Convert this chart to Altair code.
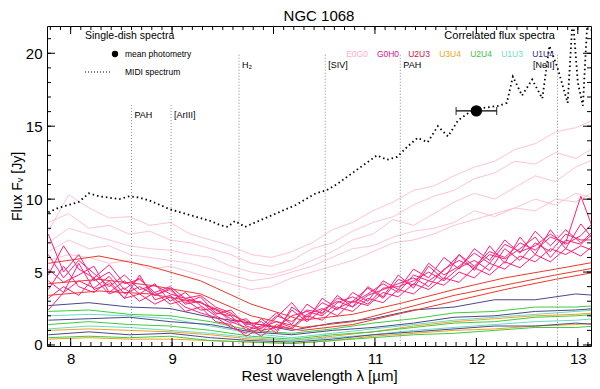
import altair as alt
import pandas as pd

# ---------------- data ----------------
TITLE = "NGC 1068"
X_TITLE = "Rest wavelength λ [µm]"
Y_TITLE = "Flux Fᵥ [Jy]"
X_MAJOR = [8, 9, 10, 11, 12, 13]
Y_MAJOR = [0, 5, 10, 15, 20]
X_MINOR = [round(7.8 + 0.1 * i, 1) for i in range(54)]
Y_MINOR = list(range(0, 22))

# MIDI single-dish spectrum
MIDI_LAM = [7.78, 7.88, 7.98, 8.08, 8.18, 8.28, 8.38, 8.48, 8.58, 8.68, 8.78, 8.88, 8.98,
            9.08, 9.18, 9.28, 9.38, 9.48, 9.55, 9.62, 9.72, 9.82, 9.92, 10.02, 10.12, 10.22,
            10.32, 10.42, 10.52, 10.62, 10.72, 10.82, 10.92, 11.02, 11.12, 11.22, 11.32, 11.42,
            11.52, 11.62, 11.72, 11.82, 11.92, 12.02, 12.12, 12.22, 12.30, 12.36, 12.45, 12.55,
            12.65, 12.72, 12.80, 12.90, 12.95, 13.00, 13.05, 13.10, 13.15]
MIDI_FLUX = [9.1, 9.4, 9.6, 9.8, 10.4, 10.2, 10.1, 10.0, 10.2, 10.1, 9.9, 9.6, 9.3,
             9.1, 8.9, 8.7, 8.5, 8.2, 8.1, 8.5, 8.1, 8.4, 8.7, 9.0, 9.3, 9.6,
             10.0, 10.4, 10.6, 11.0, 11.5, 12.0, 12.5, 13.0, 12.7, 12.9, 13.6, 14.2,
             13.9, 15.0, 14.3, 15.4, 15.9, 16.2, 16.3, 16.4, 16.6, 18.4, 17.1, 18.2,
             16.9, 20.5, 19.0, 16.6, 22.5, 18.0, 16.4, 23.0, 21.0]

# mean photometry
PHOT_LAM = [12.0]
PHOT_FLUX = [16.05]
PHOT_XERR = [0.2]

# E0G0 correlated fluxes
P_GRID = [7.78, 7.98, 8.18, 8.38, 8.58, 8.78, 8.98, 9.18, 9.38, 9.58, 9.78, 9.98, 10.18, 10.38,
          10.58, 10.78, 10.98, 11.18, 11.38, 11.58, 11.78, 11.98, 12.18, 12.38, 12.58, 12.78,
          12.98, 13.18]
E0G0 = [
    [7.8, 10.3, 9.4, 8.7, 8.8, 8.2, 8.4, 7.6, 7.2, 6.8, 6.2, 6.0, 6.4, 7.0, 7.9, 8.4, 9.2, 9.8,
     10.6, 10.9, 11.6, 12.2, 12.6, 13.4, 13.8, 14.6, 14.9, 15.5],
    [8.4, 9.0, 8.0, 8.2, 7.6, 7.8, 7.2, 7.0, 6.6, 6.2, 5.6, 5.4, 5.8, 6.6, 7.0, 7.8, 8.4, 8.8,
     9.6, 10.2, 10.6, 11.4, 11.8, 12.6, 12.4, 13.2, 12.8, 13.6],
    [7.0, 8.0, 7.6, 7.2, 6.8, 6.6, 6.5, 6.2, 6.0, 5.4, 5.0, 4.8, 5.2, 5.8, 6.4, 7.2, 7.6, 8.6,
     8.2, 9.0, 9.8, 10.4, 10.0, 10.8, 11.6, 11.2, 12.2, 12.8],
    [6.4, 7.2, 6.6, 6.8, 6.2, 6.0, 5.8, 5.6, 5.2, 4.8, 4.4, 4.6, 5.0, 5.4, 6.0, 6.6, 6.8, 7.4,
     7.8, 8.0, 8.4, 9.2, 8.8, 9.4, 10.0, 9.6, 10.4, 10.0],
    [5.8, 6.2, 6.0, 5.6, 5.8, 5.2, 5.4, 5.0, 4.6, 4.2, 3.8, 4.0, 4.6, 5.0, 5.4, 5.8, 6.4, 7.0,
     7.2, 7.6, 8.2, 8.6, 9.0, 9.4, 9.2, 10.0, 9.8, 10.6],
]

# G0H0 correlated fluxes
G_GRID = [7.78, 7.93, 8.08, 8.23, 8.38, 8.53, 8.68, 8.83, 8.98, 9.13, 9.28, 9.43, 9.58, 9.73,
          9.88, 10.03, 10.18, 10.33, 10.48, 10.63, 10.78, 10.93, 11.08, 11.23, 11.38, 11.53,
          11.68, 11.83, 11.98, 12.13, 12.28, 12.43, 12.58, 12.73, 12.88, 13.03, 13.18]
G0H0 = [
    [4.8, 6.8, 5.2, 4.6, 5.5, 4.2, 4.5, 3.6, 4.0, 3.2, 3.4, 2.6, 2.2, 1.4, 1.6, 0.8, 2.6, 1.9, 2.9,
     2.4, 3.6, 3.0, 4.4, 3.8, 5.2, 4.6, 6.0, 5.2, 6.6, 5.8, 7.2, 6.3, 7.8, 6.8, 7.9, 7.0, 8.0],
    [3.2, 4.0, 3.4, 4.6, 3.5, 3.9, 3.0, 3.6, 2.8, 3.1, 2.4, 2.5, 1.6, 1.2, 0.6, 1.4, 1.1, 2.0, 1.7,
     2.6, 2.3, 3.2, 2.9, 3.8, 3.5, 4.4, 4.1, 5.0, 4.6, 5.6, 5.2, 6.1, 5.7, 6.6, 6.2, 6.8, 6.4],
    [7.6, 5.0, 6.2, 4.4, 5.0, 3.8, 4.6, 3.4, 3.9, 2.9, 3.3, 2.2, 2.0, 1.0, 1.3, 2.2, 1.4, 2.8, 2.1,
     3.4, 2.6, 4.0, 3.3, 4.8, 3.9, 5.4, 4.5, 6.2, 5.1, 6.8, 5.6, 7.4, 6.2, 7.9, 6.6, 8.3, 7.0],
    [2.4, 3.6, 5.6, 3.8, 4.2, 3.2, 4.8, 3.1, 3.4, 2.6, 2.2, 1.9, 1.2, 0.8, 1.8, 1.0, 2.4, 1.6, 2.4,
     3.0, 2.6, 3.4, 3.8, 4.2, 4.6, 4.0, 5.2, 5.8, 5.3, 6.2, 5.9, 6.6, 7.4, 6.0, 7.2, 6.9, 7.8],
    [5.2, 4.3, 4.8, 5.4, 3.6, 4.4, 3.5, 4.2, 3.0, 3.6, 2.7, 2.0, 1.5, 1.8, 0.9, 1.9, 2.9, 1.7, 3.2,
     2.5, 3.0, 3.9, 3.2, 4.5, 4.1, 5.6, 4.8, 5.4, 6.3, 5.6, 6.9, 6.4, 6.8, 7.6, 6.9, 7.5, 8.6],
    [3.8, 5.4, 4.0, 3.6, 4.4, 3.2, 3.5, 2.8, 3.3, 2.3, 2.6, 1.6, 1.4, 0.6, 1.2, 1.6, 1.2, 2.1, 2.5,
     2.0, 3.0, 2.7, 3.6, 3.3, 4.2, 3.8, 4.6, 4.3, 5.3, 4.8, 5.7, 5.3, 6.2, 5.7, 6.6, 6.1, 7.0],
    [6.2, 4.6, 5.8, 4.9, 4.0, 4.8, 3.8, 4.1, 3.5, 3.2, 2.9, 2.4, 1.8, 1.5, 1.1, 2.0, 1.6, 2.4, 2.2,
     3.2, 2.9, 3.5, 4.2, 3.6, 4.8, 4.4, 5.1, 6.2, 5.4, 6.4, 6.0, 7.0, 6.5, 7.4, 7.0, 10.2, 7.4],
    [4.4, 3.6, 4.4, 3.9, 4.7, 3.5, 4.0, 3.4, 3.8, 2.8, 3.0, 2.1, 2.4, 1.3, 1.0, 1.2, 2.0, 2.3, 2.0,
     2.9, 3.3, 2.8, 3.9, 4.0, 4.4, 5.0, 4.4, 5.3, 5.8, 5.1, 6.6, 5.8, 7.0, 6.4, 7.6, 7.2, 7.2],
]

# U2U3 correlated fluxes
R_GRID = [7.78, 8.28, 8.78, 9.28, 9.78, 10.28, 10.78, 11.28, 11.78, 12.28, 12.78, 13.18]
U2U3 = [
    [5.6, 6.1, 5.4, 4.4, 2.8, 1.7, 2.1, 2.9, 3.8, 4.6, 5.2, 5.7],
    [4.2, 4.5, 4.1, 3.5, 2.0, 1.2, 1.6, 2.5, 3.4, 4.1, 4.8, 5.3],
    [3.4, 3.7, 3.5, 2.9, 1.5, 1.0, 1.4, 2.2, 3.0, 3.8, 4.5, 5.0],
]

# low-flux baselines
L_GRID = [7.78, 8.18, 8.58, 8.98, 9.38, 9.78, 10.18, 10.58, 10.98, 11.38, 11.78, 12.18, 12.58,
          12.98, 13.18]
U1U4 = [
    [2.7, 2.9, 2.6, 2.5, 1.9, 1.5, 1.0, 1.5, 1.8, 2.4, 2.6, 3.1, 3.1, 3.5, 3.4],
    [1.7, 1.8, 1.9, 1.6, 1.4, 0.9, 0.7, 1.0, 1.2, 1.5, 1.9, 2.0, 2.3, 2.4, 2.5],
    [0.7, 0.9, 0.7, 0.8, 0.5, 0.3, 0.2, 0.4, 0.7, 0.9, 1.1, 1.3, 1.3, 1.5, 1.4],
]
U2U4 = [
    [2.3, 2.4, 2.1, 2.0, 1.6, 1.0, 0.8, 1.1, 1.5, 1.8, 2.2, 2.3, 2.6, 2.6, 2.7],
    [1.4, 1.6, 1.4, 1.3, 1.0, 0.6, 0.4, 0.7, 0.9, 1.2, 1.5, 1.6, 1.9, 2.0, 2.1],
    [0.5, 0.6, 0.5, 0.6, 0.3, 0.2, 0.1, 0.3, 0.5, 0.7, 0.8, 1.0, 1.2, 1.2, 1.3],
]
U1U3 = [
    [2.0, 2.1, 2.0, 1.8, 1.3, 0.8, 0.5, 0.8, 1.1, 1.4, 1.7, 1.9, 2.1, 2.3, 2.4],
    [1.1, 1.3, 1.2, 1.0, 0.8, 0.5, 0.3, 0.5, 0.7, 1.0, 1.2, 1.4, 1.6, 1.7, 1.8],
]
U3U4 = [
    [1.0, 1.1, 1.0, 0.9, 0.7, 0.4, 0.3, 0.6, 0.9, 1.3, 1.6, 1.8, 2.0, 2.1, 2.2],
    [0.4, 0.5, 0.4, 0.4, 0.3, 0.2, 0.1, 0.3, 0.6, 0.8, 1.0, 1.1, 1.3, 1.4, 1.5],
]

BASELINES = ["E0G0", "G0H0", "U2U3", "U3U4", "U2U4", "U1U3", "U1U4"]
LINE_COLORS = ["#ffb8cc", "#ff1f78", "#ea3a2c", "#f0a020", "#3fcc3f", "#66dcc4", "#4a4888"]
TEXT_COLORS = ["#ffb0c8", "#d0208c", "#cc1840", "#e8a818", "#40c040", "#70dcd0", "#303080"]

# spectral features
FEAT_LAM = [8.60, 8.99, 9.66, 10.51, 11.25, 12.80]
FEAT_TOP = [16.45, 16.45, 19.9, 19.9, 19.9, 19.9]
FEAT_LABEL = ["PAH", "[ArIII]", "H₂", "[SIV]", "PAH", "[NeII]"]
FEAT_LABEL_Y = [15.75, 15.75, 19.2, 19.2, 19.2, 19.2]

# ---------------- chart ----------------
W, H = 544, 320
XDOM = [7.767, 13.13]
YDOM = [-0.07, 21.87]
FONT = "Liberation Sans"

xs = alt.Scale(domain=XDOM, nice=False, zero=False)
ys = alt.Scale(domain=YDOM, nice=False, zero=False)
xaxis = alt.Axis(values=X_MAJOR, title=X_TITLE, ticks=False, domain=False, grid=False,
                 labelFontSize=15, titleFontSize=15, labelFont=FONT, titleFont=FONT,
                 labelColor="black", titleColor="black", titleFontWeight="normal",
                 labelPadding=5, titlePadding=2, format="d")
yaxis = alt.Axis(values=Y_MAJOR, title=Y_TITLE, ticks=False, domain=False, grid=False,
                 labelFontSize=15, titleFontSize=14, labelFont=FONT, titleFont=FONT,
                 labelColor="black", titleColor="black", titleFontWeight="normal",
                 labelPadding=5, titlePadding=1, format="d")


def long_df(grid, rows, name):
    recs = []
    for k, vals in enumerate(rows):
        for lam, f in zip(grid, vals):
            recs.append({"lam": lam, "flux": f, "s": f"{name}{k}"})
    return pd.DataFrame(recs)


def line_layer(grid, rows, name, color, width=1.0, opacity=1.0):
    df = long_df(grid, rows, name)
    return alt.Chart(df).mark_line(color=color, strokeWidth=width, opacity=opacity,
                                   clip=True).encode(
        x=alt.X("lam:Q", scale=xs, axis=xaxis),
        y=alt.Y("flux:Q", scale=ys, axis=yaxis),
        detail="s:N",
    )


cmap = dict(zip(BASELINES, LINE_COLORS))
layers = [
    line_layer(P_GRID, E0G0, "E0G0", cmap["E0G0"], 1.0, 0.85),
    line_layer(L_GRID, U3U4, "U3U4", cmap["U3U4"], 1.0),
    line_layer(L_GRID, U1U3, "U1U3", cmap["U1U3"], 1.0),
    line_layer(L_GRID, U2U4, "U2U4", cmap["U2U4"], 1.0),
    line_layer(L_GRID, U1U4, "U1U4", cmap["U1U4"], 1.0),
    line_layer(R_GRID, U2U3, "U2U3", cmap["U2U3"], 1.0),
    line_layer(G_GRID, G0H0, "G0H0", cmap["G0H0"], 1.0),
]

# feature lines and labels
feat = pd.DataFrame({"lam": FEAT_LAM, "top": FEAT_TOP, "label": FEAT_LABEL, "ly": FEAT_LABEL_Y})
layers.append(alt.Chart(feat).mark_rule(color="#8a8a8a", strokeDash=[1, 2], strokeWidth=1).encode(
    x=alt.X("lam:Q", scale=xs), y=alt.Y("top:Q", scale=ys), y2=alt.value(H)))
feat_left = feat[feat["label"] != "[NeII]"]
feat_right = feat[feat["label"] == "[NeII]"]
layers.append(alt.Chart(feat_left).mark_text(align="left", baseline="middle", dx=3, fontSize=9,
                                             font=FONT, color="black").encode(
    x=alt.X("lam:Q", scale=xs), y=alt.Y("ly:Q", scale=ys), text="label:N"))
layers.append(alt.Chart(feat_right).mark_text(align="right", baseline="middle", dx=-3, fontSize=9,
                                              font=FONT, color="black").encode(
    x=alt.X("lam:Q", scale=xs), y=alt.Y("ly:Q", scale=ys), text="label:N"))

# MIDI spectrum
midi = pd.DataFrame({"lam": MIDI_LAM, "flux": MIDI_FLUX})
layers.append(alt.Chart(midi).mark_line(color="black", strokeDash=[1.5, 3], strokeWidth=1.8,
                                        clip=True).encode(
    x=alt.X("lam:Q", scale=xs), y=alt.Y("flux:Q", scale=ys)))

# mean photometry
phot = pd.DataFrame({"lam": PHOT_LAM, "flux": PHOT_FLUX, "err": PHOT_XERR})
phot["lo"] = phot["lam"] - phot["err"]
phot["hi"] = phot["lam"] + phot["err"]
layers.append(alt.Chart(phot).mark_rule(color="black", strokeWidth=1.2).encode(
    x=alt.X("lo:Q", scale=xs), x2="hi:Q", y=alt.Y("flux:Q", scale=ys)))
for c in ["lo", "hi"]:
    layers.append(alt.Chart(phot).mark_tick(color="black", orient="vertical", size=8,
                                            thickness=1.2).encode(
        x=alt.X(f"{c}:Q", scale=xs), y=alt.Y("flux:Q", scale=ys)))
layers.append(alt.Chart(phot).mark_point(filled=True, color="black", size=130, opacity=1).encode(
    x=alt.X("lam:Q", scale=xs), y=alt.Y("flux:Q", scale=ys)))


# inward ticks on all four sides
def xticks(vals, length):
    d = pd.DataFrame({"v": vals})
    b = alt.Chart(d).mark_rule(color="black", strokeWidth=1).encode(
        x=alt.X("v:Q", scale=xs), y=alt.value(H), y2=alt.value(H - length))
    t = alt.Chart(d).mark_rule(color="black", strokeWidth=1).encode(
        x=alt.X("v:Q", scale=xs), y=alt.value(0), y2=alt.value(length))
    return [b, t]


def yticks(vals, length):
    d = pd.DataFrame({"v": vals})
    l = alt.Chart(d).mark_rule(color="black", strokeWidth=1).encode(
        y=alt.Y("v:Q", scale=ys), x=alt.value(0), x2=alt.value(length))
    r = alt.Chart(d).mark_rule(color="black", strokeWidth=1).encode(
        y=alt.Y("v:Q", scale=ys), x=alt.value(W), x2=alt.value(W - length))
    return [l, r]


layers += xticks(X_MINOR, 4) + xticks(X_MAJOR, 8) + yticks(Y_MINOR, 4) + yticks(Y_MAJOR, 8)

# legends
one = pd.DataFrame({"a": [0]})


def txt(s, x, y, size, color="black", align="left"):
    return alt.Chart(pd.DataFrame({"t": [s]})).mark_text(
        align=align, baseline="middle", fontSize=size, font=FONT, color=color).encode(
        x=alt.value(x), y=alt.value(y), text="t:N")


layers.append(txt("Single-dish spectra", 38, 10, 10.5))
layers.append(alt.Chart(one).mark_point(filled=True, color="black", size=40, opacity=1).encode(
    x=alt.value(68), y=alt.value(28)))
layers.append(txt("mean photometry", 78, 28, 8.5))
layers.append(alt.Chart(one).mark_rule(color="black", strokeDash=[1, 2], strokeWidth=1).encode(
    x=alt.value(38), x2=alt.value(63), y=alt.value(46)))
layers.append(txt("MIDI spectrum", 78, 46, 8.5))
layers.append(txt("Correlated flux spectra", 508, 10, 11, align="right"))
for i, (b, c) in enumerate(zip(BASELINES, TEXT_COLORS)):
    layers.append(txt(b, 310 + 31 * i, 28, 8.5, color=c, align="center"))

chart = alt.layer(*layers).properties(
    width=W, height=H,
    autosize=alt.AutoSizeParams(type="none"),
    padding={"left": 39, "top": 18, "right": 1, "bottom": 43},
    title=alt.Title(TITLE, fontSize=15, font=FONT, fontWeight="normal", offset=2,
                    anchor="middle", color="black"),
).configure_view(stroke="black", strokeWidth=1)

chart.save("out.html", embed_options={"renderer": "svg", "actions": False})
